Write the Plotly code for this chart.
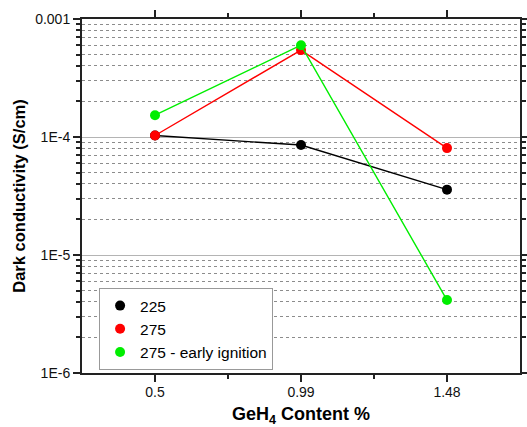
import plotly.graph_objects as go

# GeH4 content (%) and dark conductivity (S/cm) per deposition series
geh4 = [0.5, 0.99, 1.48]
series_names = ["225", "275", "275 - early ignition"]
sigma_225 = [1.03e-4, 8.55e-5, 3.58e-5]
sigma_275 = [1.03e-4, 5.45e-4, 8.05e-5]
sigma_275_early = [1.53e-4, 6.0e-4, 4.15e-6]
colors = ["#000000", "#ff0000", "#00ee00"]

x_ticks = [0.5, 0.99, 1.48]
x_minor = [0.745, 1.235]
y_ticks = [1e-6, 1e-5, 1e-4, 1e-3]
y_ticktext = ["1E-6", "1E-5", "1E-4", "0.001"]
y_minor = [m * 10.0 ** e for e in (-6, -5, -4) for m in range(2, 10)]

FONT = "Liberation Sans, Arial, sans-serif"

fig = go.Figure()
for name, ys, col in zip(series_names, [sigma_225, sigma_275, sigma_275_early], colors):
    fig.add_trace(go.Scatter(x=geh4, y=ys, mode="lines", line=dict(color=col, width=1.4),
                             showlegend=False, hoverinfo="skip"))
    fig.add_trace(go.Scatter(x=geh4, y=ys, mode="markers", name=name,
                             marker=dict(color=col, size=10)))

axis_common = dict(
    showline=True, linecolor="#222222", linewidth=2, mirror="allticks",
    ticks="outside", tickcolor="#222222", tickwidth=1.5, ticklen=7,
    tickfont=dict(family=FONT, size=14, color="#111111"),
    zeroline=False, automargin=False,
)

fig.update_xaxes(
    **axis_common,
    range=[0.255, 1.725],
    tickvals=x_ticks, ticktext=[str(v) for v in x_ticks],
    ticklabelstandoff=-2,
    showgrid=False,
    minor=dict(tickvals=x_minor, ticks="outside", ticklen=4, tickcolor="#222222", tickwidth=1.5, showgrid=False),
    title=dict(text="<b>GeH<sub>4</sub> Content %</b>", font=dict(family=FONT, size=18, color="#000000"), standoff=12),
)

fig.update_yaxes(
    **axis_common,
    type="log", range=[-6, -3],
    tickvals=y_ticks, ticktext=y_ticktext,
    showgrid=True, gridcolor="#b4b4b4", gridwidth=1,
    minor=dict(tickvals=y_minor, ticks="outside", ticklen=4, tickcolor="#222222", tickwidth=1.5,
               showgrid=True, gridcolor="#8c8c8c", griddash="3px,3px", gridwidth=1),
    title=dict(text="<b>Dark conductivity (S/cm)</b>", font=dict(family=FONT, size=16.5, color="#000000"), standoff=5),
)

fig.update_layout(
    width=527, height=427,
    margin=dict(l=82, r=7, t=19, b=54, autoexpand=False),
    paper_bgcolor="white", plot_bgcolor="white",
    font=dict(family=FONT),
    legend=dict(x=0.039, y=0.24, xanchor="left", yanchor="top",
                bordercolor="#999999", borderwidth=1, bgcolor="white",
                font=dict(family=FONT, size=15.5, color="#000000"),
                tracegroupgap=0, itemwidth=30),
)

fig.write_html("out.html")
